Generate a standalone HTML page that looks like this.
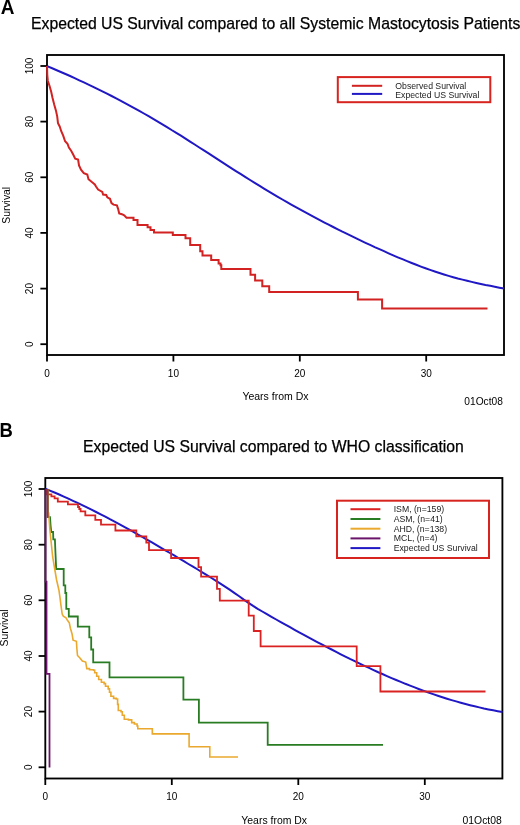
<!DOCTYPE html>
<html><head><meta charset="utf-8"><title>Survival</title>
<style>html,body{margin:0;padding:0;background:#fff;}body{width:520px;height:825px;overflow:hidden;}svg{display:block;}svg{will-change:transform;}.t{stroke:#000;stroke-width:0.25px;}</style>
</head><body>
<svg xmlns="http://www.w3.org/2000/svg" width="520" height="825" viewBox="0 0 520 825" font-family='"Liberation Sans", sans-serif' fill="#000">
<rect width="520" height="825" fill="#fff"/>
<text transform="translate(0.8,13.6) scale(1,1.07)" font-size="19" font-weight="bold">A</text>
<text x="31" y="28.7" font-size="15.75" class="t">Expected US Survival compared to all Systemic Mastocytosis Patients</text>
<rect x="47.0" y="55.0" width="457.0" height="300.0" fill="none" stroke="#000" stroke-width="1.85"/>
<line x1="40.4" y1="344.2" x2="47.0" y2="344.2" stroke="#000" stroke-width="1.8"/>
<line x1="40.4" y1="288.6" x2="47.0" y2="288.6" stroke="#000" stroke-width="1.8"/>
<line x1="40.4" y1="232.9" x2="47.0" y2="232.9" stroke="#000" stroke-width="1.8"/>
<line x1="40.4" y1="177.3" x2="47.0" y2="177.3" stroke="#000" stroke-width="1.8"/>
<line x1="40.4" y1="121.6" x2="47.0" y2="121.6" stroke="#000" stroke-width="1.8"/>
<line x1="40.4" y1="66.0" x2="47.0" y2="66.0" stroke="#000" stroke-width="1.8"/>
<line x1="47.0" y1="355.0" x2="47.0" y2="361.5" stroke="#000" stroke-width="1.8"/>
<line x1="173.4" y1="355.0" x2="173.4" y2="361.5" stroke="#000" stroke-width="1.8"/>
<line x1="299.8" y1="355.0" x2="299.8" y2="361.5" stroke="#000" stroke-width="1.8"/>
<line x1="426.2" y1="355.0" x2="426.2" y2="361.5" stroke="#000" stroke-width="1.8"/>
<text transform="translate(32.7,344.2) rotate(-90)" text-anchor="middle" font-size="10">0</text>
<text transform="translate(32.7,288.6) rotate(-90)" text-anchor="middle" font-size="10">20</text>
<text transform="translate(32.7,232.9) rotate(-90)" text-anchor="middle" font-size="10">40</text>
<text transform="translate(32.7,177.3) rotate(-90)" text-anchor="middle" font-size="10">60</text>
<text transform="translate(32.7,121.6) rotate(-90)" text-anchor="middle" font-size="10">80</text>
<text transform="translate(32.7,66.0) rotate(-90)" text-anchor="middle" font-size="10">100</text>
<text transform="translate(9.5,205.3) rotate(-90)" text-anchor="middle" font-size="10.4">Survival</text>
<text x="47.0" y="376.7" text-anchor="middle" font-size="10">0</text>
<text x="173.4" y="376.7" text-anchor="middle" font-size="10">10</text>
<text x="299.8" y="376.7" text-anchor="middle" font-size="10">20</text>
<text x="426.2" y="376.7" text-anchor="middle" font-size="10">30</text>
<text x="242.4" y="400.1" font-size="10.5">Years from Dx</text>
<text x="464.3" y="405" font-size="10.2">01Oct08</text>
<path d="M47.0,66.1 L51.6,68.0 L56.2,70.0 L60.8,72.0 L65.5,74.0 L70.1,76.0 L74.7,78.1 L79.3,80.3 L83.9,82.4 L88.5,84.6 L93.2,86.8 L97.8,89.1 L102.4,91.4 L107.0,93.7 L111.6,96.0 L116.2,98.4 L120.9,100.9 L125.5,103.3 L130.1,105.8 L134.7,108.3 L139.3,110.9 L143.9,113.5 L148.6,116.2 L153.2,118.9 L157.8,121.6 L162.4,124.3 L167.0,127.1 L171.6,130.0 L176.3,132.8 L180.9,135.7 L185.5,138.6 L190.1,141.6 L194.7,144.5 L199.3,147.5 L203.9,150.4 L208.6,153.4 L213.2,156.4 L217.8,159.4 L222.4,162.4 L227.0,165.3 L231.6,168.3 L236.3,171.3 L240.9,174.2 L245.5,177.1 L250.1,180.0 L254.7,182.9 L259.3,185.7 L264.0,188.6 L268.6,191.3 L273.2,194.1 L277.8,196.8 L282.4,199.5 L287.0,202.1 L291.7,204.8 L296.3,207.4 L300.9,209.9 L305.5,212.4 L310.1,214.9 L314.7,217.4 L319.4,219.9 L324.0,222.3 L328.6,224.7 L333.2,227.0 L337.8,229.4 L342.4,231.7 L347.1,233.9 L351.7,236.2 L356.3,238.4 L360.9,240.6 L365.5,242.8 L370.1,244.9 L374.7,247.1 L379.4,249.2 L384.0,251.2 L388.6,253.3 L393.2,255.3 L397.8,257.3 L402.4,259.2 L407.1,261.1 L411.7,263.0 L416.3,264.8 L420.9,266.6 L425.5,268.3 L430.1,269.9 L434.8,271.5 L439.4,273.0 L444.0,274.5 L448.6,275.9 L453.2,277.2 L457.8,278.5 L462.5,279.6 L467.1,280.8 L471.7,281.9 L476.3,282.9 L480.9,283.9 L485.5,284.9 L490.2,285.8 L494.8,286.7 L499.4,287.7 L504.0,288.6" fill="none" stroke="#2018c4" stroke-width="2"/>
<path d="M47,66 L47.3,75 L47.8,80.7 L49.5,85.8 L51.2,91.7 L52.5,97.7 L54.2,104.4 L55.9,110.4 L57.2,116.3 L58,123.1 L59.7,126.5 L61.25,131.25 L63.2,135.6 L65.1,141.3 L67.5,143.75 L68.9,147.6 L71.3,151 L73.3,154.8 L75.2,158.7 L78.1,159.6 L79,165.4 L81,169.7 L83.8,173.1 L87.3,174.6 L88.5,179.2 L91.9,182.1 L94.8,184.4 L96,186.5 L98.1,189.6 L102.3,191.9 L103.1,194.6 L106.2,195 L107.3,197.3 L110,198.8 L111.5,203.1 L113.5,204.6 L116.9,205.4 L118.1,208.8 L119.2,213.5 L121.9,214.2 L124.2,215.4 L126.5,217.8 H133.5 V220.1 H137.5 V225 H147.6 V227.3 H150.5 V229.9 H154 V232.6 H172.8 V234.9 H185.5 V238.3 H190.2 V244.9 H200.2 V251.3 H202.5 V255.5 H211.2 V260.1 H218.6 V263.5 H220.5 V265.2 H221.3 V269.1 H250.5 V274.7 H255.1 V280.4 H262.3 V286.2 H269.2 V291.9 H357.9 V299.4 H382.1 V308.4 H487.5" fill="none" stroke="#d22222" stroke-width="2"/>
<rect x="337.8" y="77.1" width="152.5" height="25.1" fill="none" stroke="#d8241f" stroke-width="2"/>
<line x1="351.9" y1="85.8" x2="382.2" y2="85.8" stroke="#d22222" stroke-width="2"/>
<line x1="351.9" y1="93.9" x2="382.2" y2="93.9" stroke="#2018c4" stroke-width="2"/>
<text x="395.3" y="88.5" font-size="8.7" fill="#222">Observed Survival</text>
<text x="395.3" y="97.9" font-size="8.7" fill="#222">Expected US Survival</text>
<text transform="translate(-0.6,437.4) scale(0.97,1.04)" font-size="19" font-weight="bold">B</text>
<text x="83.1" y="452.0" font-size="15.75" class="t">Expected US Survival compared to WHO classification</text>
<rect x="45.3" y="478.0" width="457.1" height="300.5" fill="none" stroke="#000" stroke-width="1.85"/>
<line x1="38.6" y1="767.3" x2="45.3" y2="767.3" stroke="#000" stroke-width="1.8"/>
<line x1="38.6" y1="711.6" x2="45.3" y2="711.6" stroke="#000" stroke-width="1.8"/>
<line x1="38.6" y1="656.0" x2="45.3" y2="656.0" stroke="#000" stroke-width="1.8"/>
<line x1="38.6" y1="600.3" x2="45.3" y2="600.3" stroke="#000" stroke-width="1.8"/>
<line x1="38.6" y1="544.7" x2="45.3" y2="544.7" stroke="#000" stroke-width="1.8"/>
<line x1="38.6" y1="489.0" x2="45.3" y2="489.0" stroke="#000" stroke-width="1.8"/>
<line x1="45.3" y1="778.5" x2="45.3" y2="785.0" stroke="#000" stroke-width="1.8"/>
<line x1="171.8" y1="778.5" x2="171.8" y2="785.0" stroke="#000" stroke-width="1.8"/>
<line x1="298.3" y1="778.5" x2="298.3" y2="785.0" stroke="#000" stroke-width="1.8"/>
<line x1="424.8" y1="778.5" x2="424.8" y2="785.0" stroke="#000" stroke-width="1.8"/>
<text transform="translate(31.9,767.3) rotate(-90)" text-anchor="middle" font-size="10">0</text>
<text transform="translate(31.9,711.6) rotate(-90)" text-anchor="middle" font-size="10">20</text>
<text transform="translate(31.9,656.0) rotate(-90)" text-anchor="middle" font-size="10">40</text>
<text transform="translate(31.9,600.3) rotate(-90)" text-anchor="middle" font-size="10">60</text>
<text transform="translate(31.9,544.7) rotate(-90)" text-anchor="middle" font-size="10">80</text>
<text transform="translate(31.9,489.0) rotate(-90)" text-anchor="middle" font-size="10">100</text>
<text transform="translate(8.2,628) rotate(-90)" text-anchor="middle" font-size="10.4">Survival</text>
<text x="45.3" y="799.8" text-anchor="middle" font-size="10">0</text>
<text x="171.8" y="799.8" text-anchor="middle" font-size="10">10</text>
<text x="298.3" y="799.8" text-anchor="middle" font-size="10">20</text>
<text x="424.8" y="799.8" text-anchor="middle" font-size="10">30</text>
<text x="241.3" y="823.8" font-size="10.45">Years from Dx</text>
<text x="462.5" y="824.4" font-size="10.4">01Oct08</text>
<path d="M45.3,488.7 L49.9,490.6 L54.5,492.5 L59.2,494.5 L63.8,496.6 L68.4,498.6 L73.0,500.8 L77.6,502.9 L82.2,505.1 L86.9,507.4 L91.5,509.7 L96.1,512.0 L100.7,514.4 L105.3,516.7 L109.9,519.2 L114.6,521.6 L119.2,524.1 L123.8,526.6 L128.4,529.2 L133.0,531.7 L137.6,534.3 L142.3,536.9 L146.9,539.6 L151.5,542.2 L156.1,544.9 L160.7,547.6 L165.3,550.3 L170.0,553.0 L174.6,555.7 L179.2,558.5 L183.8,561.2 L188.4,564.0 L193.0,566.7 L197.7,569.5 L202.3,572.3 L206.9,575.2 L211.5,578.0 L216.1,580.9 L220.8,583.9 L225.4,586.9 L230.0,589.9 L234.6,593.1 L239.2,596.3 L243.8,599.6 L248.5,602.8 L253.1,605.9 L257.7,608.8 L262.3,611.5 L266.9,614.2 L271.5,616.8 L276.2,619.5 L280.8,622.1 L285.4,624.6 L290.0,627.2 L294.6,629.8 L299.2,632.3 L303.9,634.8 L308.5,637.3 L313.1,639.8 L317.7,642.3 L322.3,644.7 L326.9,647.2 L331.6,649.5 L336.2,651.9 L340.8,654.3 L345.4,656.6 L350.0,658.9 L354.7,661.1 L359.3,663.4 L363.9,665.6 L368.5,667.7 L373.1,669.9 L377.7,672.0 L382.4,674.0 L387.0,676.1 L391.6,678.1 L396.2,680.0 L400.8,681.9 L405.4,683.8 L410.1,685.6 L414.7,687.4 L419.3,689.2 L423.9,690.9 L428.5,692.5 L433.1,694.1 L437.8,695.7 L442.4,697.2 L447.0,698.7 L451.6,700.1 L456.2,701.4 L460.8,702.7 L465.5,704.0 L470.1,705.2 L474.7,706.3 L479.3,707.4 L483.9,708.5 L488.5,709.4 L493.2,710.3 L497.8,711.2 L502.4,712.0" fill="none" stroke="#2018c4" stroke-width="2"/>
<path d="M46.4,489 V494.4 H51.4 V496.4 H54.6 V498.4 H57.8 V501.6 H67.9 V504.3 H78 V507 H79.3 V509 H80.6 V511.3 H85.3 V515.3 H95.3 V519.8 H101 V524.7 H115.4 V530.5 H136.3 V536.3 H146.3 V542.6 H149 V550.1 H171.1 V558 H198.5 V567.1 H201.1 V576.7 H217.0 V588.9 H219.8 V600.7 H248.7 V615.6 H253.8 V631 H260.6 V646.3 H356.7 V666.2 H380.4 V691.5 H485.5" fill="none" stroke="#da2222" stroke-width="1.8"/>
<path d="M47.7,489 L47.7,517.1 L50,517.1 L50.6,525.5 L51.3,532 L53.1,532 L53.3,539.3 L54.9,539.3 L55.5,553.7 L56.2,569 H63.7 V585.3 H65.3 V593 H66.3 V608.8 H68.8 V616.5 H77.8 V626.7 H89.3 V637.4 H91.2 V649.5 H93.2 V662.4 H109.5 V677.4 H183.4 V699.7 H198.9 V722.6 H267.7 V744.8 H383" fill="none" stroke="#287c22" stroke-width="1.8"/>
<path d="M47.7,489 L47.7,513 L48.7,513 L49.8,529 L51.3,543.7 L52.7,557 L54.2,566 L56.6,580 L58.9,590 L60,597.6 L61.1,606.4 L62.2,614 L63.3,616.2 L66,617.8 L67.6,620.6 L69.3,622.8 L70.4,628.2 L72,633.7 L73.1,640.2 L76.4,641.3 L76.9,649 L77.5,655.5 L79.7,657.7 L82.4,661 L85.7,662 L86.8,668.6 H89.5 V669.7 H93.6 V670.2 H94.7 V672.8 H96.7 V676.2 H98.7 V679.5 H101.4 V682.2 H104.1 V683.6 H105.5 V686.2 H108.2 V688.9 H109.5 V692.3 H110.9 V696.3 H113.6 V698.4 H116.2 V699 H117.6 V704.4 H118.3 V710.5 H121 V711.8 H122.3 V715.2 H124.3 V719.2 H128.4 V719.9 H131.7 V722.6 H134.4 V724 H137.1 V726 H137.8 V728.8 H152.3 V733.9 H189.1 V746.8 H209.8 V757 H238" fill="none" stroke="#eaa92e" stroke-width="1.6"/>
<path d="M47.7,489 V517.5" fill="none" stroke="#8a3a3a" stroke-width="1.8"/>
<path d="M45.6,489 V581.7 H46.5 V673.8 H49.5 V767.4" fill="none" stroke="#6a146a" stroke-width="1.8"/>
<rect x="337" y="500.7" width="152" height="57.3" fill="none" stroke="#d8241f" stroke-width="2"/>
<line x1="350.5" y1="509.2" x2="380.4" y2="509.2" stroke="#da2222" stroke-width="2"/>
<text x="393.7" y="511.5" font-size="8.7" fill="#222">ISM, (n=159)</text>
<line x1="350.5" y1="519.0" x2="380.4" y2="519.0" stroke="#287c22" stroke-width="2"/>
<text x="393.7" y="521.5" font-size="8.7" fill="#222">ASM, (n=41)</text>
<line x1="350.5" y1="528.7" x2="380.4" y2="528.7" stroke="#eaa92e" stroke-width="2"/>
<text x="393.7" y="531.8" font-size="8.7" fill="#222">AHD, (n=138)</text>
<line x1="350.5" y1="538.4" x2="380.4" y2="538.4" stroke="#6a146a" stroke-width="2"/>
<text x="393.7" y="541.2" font-size="8.7" fill="#222">MCL, (n=4)</text>
<line x1="350.5" y1="548.1" x2="380.4" y2="548.1" stroke="#2018c4" stroke-width="2"/>
<text x="393.7" y="551.2" font-size="8.7" fill="#222">Expected US Survival</text>
</svg>
</body></html>
